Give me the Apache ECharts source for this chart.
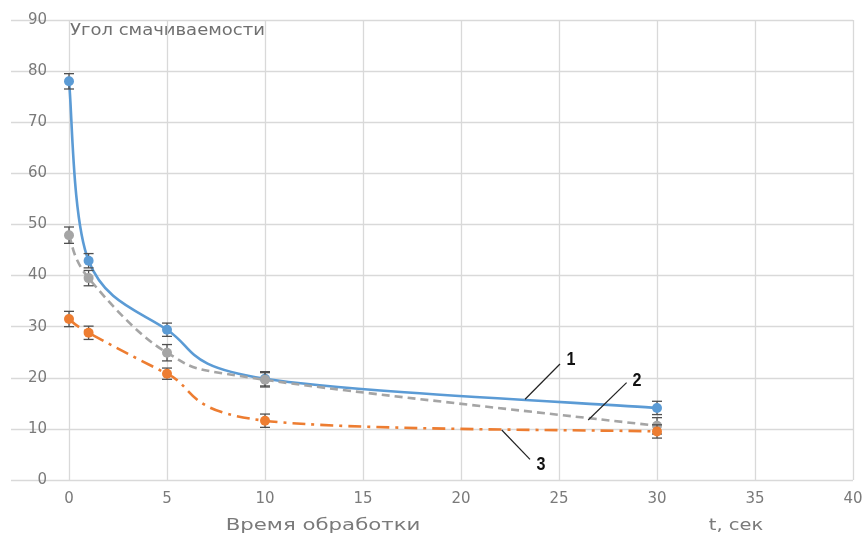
<!DOCTYPE html>
<html><head><meta charset="utf-8">
<script src="https://cdn.jsdelivr.net/npm/echarts@6/dist/echarts.min.js"></script>
<style>html,body{margin:0;padding:0;background:#fff}#c{width:866px;height:535px}</style>
</head><body><div id="c"></div>
<script>
// ---- data ----
const times = [0, 1, 5, 10, 30];
const series1 = [78.0, 42.9, 29.4, 19.8, 14.1];
const err1 = [1.5, 1.4, 1.3, 1.4, 1.3];
const series2 = [47.9, 39.5, 24.9, 19.6, 10.6];
const err2 = [1.6, 1.5, 1.6, 1.4, 1.6];
const series3 = [31.5, 28.8, 20.8, 11.6, 9.5];
const err3 = [1.5, 1.3, 1.1, 1.3, 1.3];
const xMin = 0, xMax = 40, xStep = 5;
const yMin = 0, yMax = 90, yStep = 10;
const chartTitle = 'Угол смачиваемости';
const xName = 'Время обработки';
const xUnit = 't, сек';
const annotLabels = ['1', '2', '3'];
const annotFrom = [[23.27, 15.79], [26.49, 11.74], [22.08, 9.78]];
const annotTo = [[25.05, 22.7], [28.45, 19.04], [23.52, 4.05]];
const annotText = [[25.61, 23.48], [28.98, 19.37], [24.08, 2.93]];

// ---- styles ----
const colors = ['#5b9bd5', '#a5a5a5', '#ed7d31'];
const gridColor = '#d9d9d9';
const labelColor = '#7a7a7a';
const font = 'DejaVu Sans';

const chart = echarts.init(document.getElementById('c'));

function errSeries(vals, errs, z) {
  return {
    type: 'custom', z: z, silent: true,
    xAxisIndex: 1, yAxisIndex: 1,
    data: times.map((t, i) => [t, vals[i] - errs[i], vals[i] + errs[i]]),
    renderItem: function (params, api) {
      const lo = api.coord([api.value(0), api.value(1)]);
      const hi = api.coord([api.value(0), api.value(2)]);
      const hw = 5;
      const st = { stroke: '#505050', lineWidth: 1.3 };
      return { type: 'group', children: [
        { type: 'line', shape: { x1: lo[0], y1: lo[1], x2: hi[0], y2: hi[1] }, style: st },
        { type: 'line', shape: { x1: lo[0] - hw, y1: lo[1], x2: lo[0] + hw, y2: lo[1] }, style: st },
        { type: 'line', shape: { x1: hi[0] - hw, y1: hi[1], x2: hi[0] + hw, y2: hi[1] }, style: st }
      ]};
    }
  };
}
// smooth curve (Excel-like Catmull-Rom bezier) through the points, positioned by the axes
function curveSeries(vals, color, dash, z) {
  return {
    type: 'custom', z: z, silent: true,
    xAxisIndex: 1, yAxisIndex: 1,
    data: times.map((t, i) => [t, vals[i]]),
    renderItem: function (params, api) {
      if (params.dataIndex !== 0) return null;
      const P = times.map((t, i) => api.coord([t, vals[i]]));
      const n = P.length;
      let d = 'M' + P[0][0] + ',' + P[0][1];
      for (let i = 0; i < n - 1; i++) {
        const p0 = P[Math.max(0, i - 1)], p1 = P[i], p2 = P[i + 1], p3 = P[Math.min(n - 1, i + 2)];
        const c1 = [p1[0] + (p2[0] - p0[0]) / 6, p1[1] + (p2[1] - p0[1]) / 6];
        const c2 = [p2[0] - (p3[0] - p1[0]) / 6, p2[1] - (p3[1] - p1[1]) / 6];
        d += ' C' + c1[0] + ',' + c1[1] + ' ' + c2[0] + ',' + c2[1] + ' ' + p2[0] + ',' + p2[1];
      }
      return { type: 'path', shape: { pathData: d },
        style: { fill: null, stroke: color, lineWidth: 2.6, lineDash: dash, lineCap: 'butt' } };
    }
  };
}
function markerSeries(vals, color, z) {
  return {
    type: 'scatter', z: z, xAxisIndex: 1, yAxisIndex: 1,
    data: times.map((t, i) => [t, vals[i]]),
    symbol: 'circle', symbolSize: 10,
    itemStyle: { color: color, opacity: 1 }
  };
}

const option = {
  animation: false,
  backgroundColor: '#fff',
  grid: [
    { left: 11, right: 13, top: 20, bottom: 55 },
    { left: 69, right: 13, top: 20, bottom: 55 }
  ],
  xAxis: [
    { gridIndex: 0, type: 'value', min: 0, max: 1, show: false },
    { gridIndex: 1, type: 'value', min: xMin, max: xMax, interval: xStep,
      axisLine: { show: false }, axisTick: { show: false },
      splitLine: { show: true, lineStyle: { color: gridColor, width: 1.3 } },
      axisLabel: { color: labelColor, fontFamily: font, fontSize: 15, margin: 12 } }
  ],
  yAxis: [
    { gridIndex: 0, type: 'value', min: yMin, max: yMax, interval: yStep,
      axisLine: { show: false }, axisTick: { show: false }, axisLabel: { show: false },
      splitLine: { show: true, lineStyle: { color: gridColor, width: 1.3 } } },
    { gridIndex: 1, type: 'value', min: yMin, max: yMax, interval: yStep,
      axisLine: { show: false }, axisTick: { show: false }, splitLine: { show: false },
      axisLabel: { margin: 22, color: labelColor, fontFamily: font, fontSize: 15 } }
  ],
  series: [
    curveSeries(series1, colors[0], null, 3),
    errSeries(series1, err1, 3),
    markerSeries(series1, colors[0], 4),
    curveSeries(series2, colors[1], [8, 5], 5),
    errSeries(series2, err2, 5),
    markerSeries(series2, colors[1], 6),
    curveSeries(series3, colors[2], [13, 6, 3, 6], 7),
    errSeries(series3, err3, 7),
    markerSeries(series3, colors[2], 8),
    {
      type: 'custom', xAxisIndex: 1, yAxisIndex: 1, z: 10, silent: true,
      data: annotLabels.map((l, i) => [annotFrom[i][0], annotFrom[i][1], annotTo[i][0], annotTo[i][1], annotText[i][0], annotText[i][1]]),
      renderItem: function (params, api) {
        const a = api.coord([api.value(0), api.value(1)]);
        const b = api.coord([api.value(2), api.value(3)]);
        const t = api.coord([api.value(4), api.value(5)]);
        return { type: 'group', children: [
          { type: 'line', shape: { x1: a[0], y1: a[1], x2: b[0], y2: b[1] }, style: { stroke: '#222', lineWidth: 1.2 } },
          { type: 'text', x: t[0], y: t[1], scaleX: 0.85, style: { text: annotLabels[params.dataIndex], fill: '#111',
            font: 'bold 19px "Liberation Sans Narrow", "Liberation Sans", sans-serif', textAlign: 'center', textVerticalAlign: 'middle' } }
        ]};
      }
    }
  ],
  graphic: [
    { type: 'text', x: 70, y: 31, scaleX: 1.2, style: { text: chartTitle, fill: '#707070', font: '15px "DejaVu Sans"', textAlign: 'left', textVerticalAlign: 'middle' } },
    { type: 'text', x: 323, y: 526, scaleX: 1.33, style: { text: xName, fill: '#7a7a7a', font: '16px "DejaVu Sans"', textAlign: 'center', textVerticalAlign: 'middle' } },
    { type: 'text', x: 736, y: 526, scaleX: 1.3, style: { text: xUnit, fill: '#7a7a7a', font: '15px "DejaVu Sans"', textAlign: 'center', textVerticalAlign: 'middle' } }
  ]
};
chart.setOption(option);
</script></body></html>
